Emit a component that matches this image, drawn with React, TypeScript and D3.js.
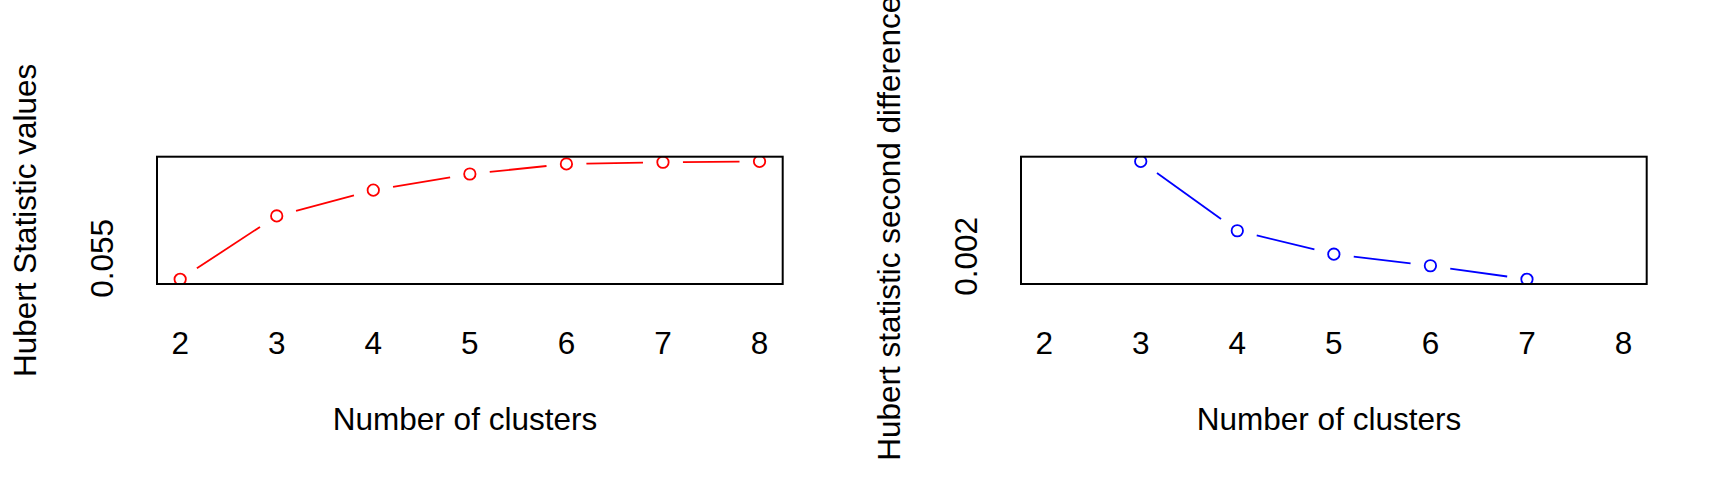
import React, { useEffect, useRef } from 'react'
import * as d3 from 'd3'

const WIDTH = 1728
const HEIGHT = 480
const PANEL_WIDTH = 864
const BOX_LEFT = 157
const BOX_RIGHT = 782.7
const BOX_TOP = 156.7
const BOX_BOTTOM = 284
const XTICK_BASELINE = 354.3
const YTICK_BASELINE = 112.5
const XLAB_BASELINE = 430
const XLAB_CENTER = 465
const YLAB_BASELINE = 36
const FONT = '"Liberation Sans", Arial, sans-serif'
const FONT_SIZE = 31.5
const GAP = 20 // type="b" leaves a gap round each point
const RADIUS = 5.7

// values
const clusters = [2, 3, 4, 5, 6, 7, 8]
const hubertValues = [0.0540, 0.05702, 0.05825, 0.05902, 0.05950, 0.05958, 0.05962]
const diffClusters = [3, 4, 5, 6, 7]
const hubertDiffs = [0.004069, 0.002558, 0.002047, 0.001795, 0.0015]
const xTicks = [2, 3, 4, 5, 6, 7, 8]
const hubertTicks = [0.055]
const diffTicks = [0.002]

const panels = [
  { xs: clusters, ys: hubertValues, ticks: hubertTicks, colour: '#ff0000', ylab: 'Hubert Statistic values' },
  { xs: diffClusters, ys: hubertDiffs, ticks: diffTicks, colour: '#0000ff', ylab: 'Hubert statistic second differences' },
]

// R pads the axis range by 4% on each side
const padded = (lo: number, hi: number) => {
  const r = hi - lo
  return [lo - 0.04 * r, hi + 0.04 * r]
}

export default function App() {
  const ref = useRef<SVGSVGElement>(null)

  useEffect(() => {
    document.body.style.margin = '0'
    const svg = d3.select(ref.current)
    svg.selectAll('*').remove()

    panels.forEach((p, i) => {
      const g = svg.append('g').attr('transform', `translate(${i * PANEL_WIDTH},0)`)

      const x = d3.scaleLinear().domain(padded(2, 8)).range([BOX_LEFT, BOX_RIGHT])
      const [lo, hi] = d3.extent(p.ys) as [number, number]
      const y = d3.scaleLinear().domain(padded(lo, hi)).range([BOX_BOTTOM, BOX_TOP])

      const clipId = `plot-clip-${i}`
      g.append('clipPath')
        .attr('id', clipId)
        .append('rect')
          .attr('x', BOX_LEFT)
          .attr('y', BOX_TOP)
          .attr('width', BOX_RIGHT - BOX_LEFT)
          .attr('height', BOX_BOTTOM - BOX_TOP)

      const plot = g.append('g').attr('clip-path', `url(#${clipId})`)
      const pts = p.xs.map((v, k) => [x(v), y(p.ys[k])])

      d3.pairs(pts).forEach(([a, b]) => {
        const dx = b[0] - a[0]
        const dy = b[1] - a[1]
        const len = Math.hypot(dx, dy)
        if (len <= 2 * GAP) return
        const ux = dx / len
        const uy = dy / len
        plot.append('line')
          .attr('x1', a[0] + ux * GAP)
          .attr('y1', a[1] + uy * GAP)
          .attr('x2', b[0] - ux * GAP)
          .attr('y2', b[1] - uy * GAP)
          .attr('stroke', p.colour)
          .attr('stroke-width', 1.8)
      })

      plot.selectAll('circle')
        .data(pts)
        .join('circle')
          .attr('cx', d => d[0])
          .attr('cy', d => d[1])
          .attr('r', RADIUS)
          .attr('fill', 'none')
          .attr('stroke', p.colour)
          .attr('stroke-width', 1.8)

      g.append('rect')
        .attr('x', BOX_LEFT)
        .attr('y', BOX_TOP)
        .attr('width', BOX_RIGHT - BOX_LEFT)
        .attr('height', BOX_BOTTOM - BOX_TOP)
        .attr('fill', 'none')
        .attr('stroke', '#000')
        .attr('stroke-width', 2)

      const text = g.append('g')
        .attr('font-family', FONT)
        .attr('font-size', FONT_SIZE)
        .attr('fill', '#000')
        .attr('text-anchor', 'middle')

      text.selectAll('text.xtick')
        .data(xTicks)
        .join('text')
          .attr('class', 'xtick')
          .attr('x', d => x(d))
          .attr('y', XTICK_BASELINE)
          .text(d => d)

      text.selectAll('text.ytick')
        .data(p.ticks)
        .join('text')
          .attr('class', 'ytick')
          .attr('transform', d => `translate(${YTICK_BASELINE},${y(d)}) rotate(-90)`)
          .text(d => String(d))

      text.append('text')
        .attr('x', XLAB_CENTER)
        .attr('y', XLAB_BASELINE)
        .text('Number of clusters')

      text.append('text')
        .attr('transform', `translate(${YLAB_BASELINE},${(BOX_TOP + BOX_BOTTOM) / 2}) rotate(-90)`)
        .text(p.ylab)
    })
  }, [])

  return <svg ref={ref} width={WIDTH} height={HEIGHT} style={{ display: 'block', background: '#fff' }} />
}
